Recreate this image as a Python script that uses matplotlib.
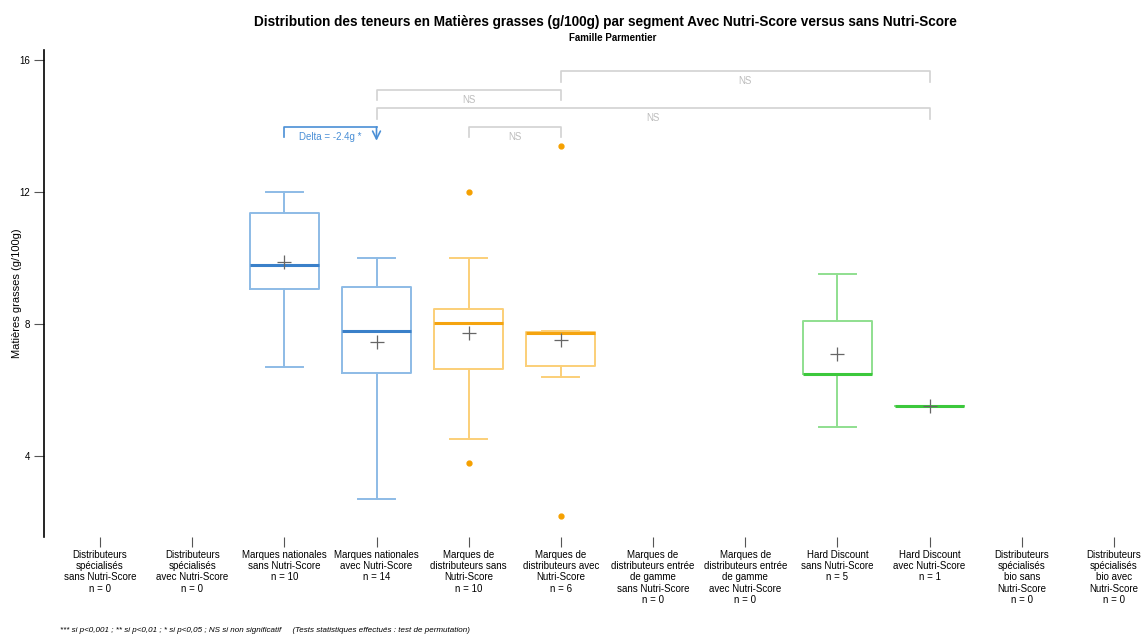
import matplotlib
matplotlib.use('Agg')
import matplotlib.pyplot as plt

plt.rcParams['font.family'] = ['Liberation Sans', 'DejaVu Sans']

# Categories (x axis)
categories = [
    "Distributeurs\nspécialisés\nsans Nutri-Score",
    "Distributeurs\nspécialisés\navec Nutri-Score",
    "Marques nationales\nsans Nutri-Score",
    "Marques nationales\navec Nutri-Score",
    "Marques de\ndistributeurs sans\nNutri-Score",
    "Marques de\ndistributeurs avec\nNutri-Score",
    "Marques de\ndistributeurs entrée\nde gamme\nsans Nutri-Score",
    "Marques de\ndistributeurs entrée\nde gamme\navec Nutri-Score",
    "Hard Discount\nsans Nutri-Score",
    "Hard Discount\navec Nutri-Score",
    "Distributeurs\nspécialisés\nbio sans\nNutri-Score",
    "Distributeurs\nspécialisés\nbio avec\nNutri-Score",
]
n_obs = [0, 0, 10, 14, 10, 6, 0, 0, 5, 1, 0, 0]

# Box statistics for non-empty segments (category index)
box_cat = [2, 3, 4, 5, 8, 9]
box_group = ['MN', 'MN', 'MDD', 'MDD', 'HD', 'HD']
whislo = [6.7, 2.7, 4.5, 6.38, 4.89, 5.5]
q1 = [9.07, 6.52, 6.64, 6.73, 6.48, 5.5]
med = [9.79, 7.79, 8.04, 7.72, 6.48, 5.5]
q3 = [11.37, 9.12, 8.46, 7.77, 8.09, 5.5]
whishi = [12.0, 10.0, 10.0, 7.8, 9.5, 5.5]
means = [9.88, 7.45, 7.72, 7.5, 7.08, 5.5]
fliers = [[], [], [12.0, 3.79], [13.4, 2.19], [], []]

# Comparisons (category index pairs)
cmp_left = [2, 4, 3, 3, 5]
cmp_right = [3, 5, 9, 5, 9]
cmp_level = [13.97, 13.97, 14.53, 15.09, 15.65]
cmp_text = ["Delta = -2.4g *", "NS", "NS", "NS", "NS"]
cmp_signif = [True, False, False, False, False]

colors = {
    'MN': ('#8dbbe6', '#3a80c9'),
    'MDD': ('#fbcf78', '#f5a40f'),
    'HD': ('#8fdf8f', '#3cc83c'),
}
flier_color = '#f5a000'

fig = plt.figure(figsize=(11.43, 6.37), dpi=100)
ax = fig.add_axes([44 / 1143, 100 / 637, 1099 / 1143, 487 / 637])

for grp, (light, dark) in colors.items():
    stats = []
    pos = []
    for k in range(len(box_cat)):
        if box_group[k] != grp:
            continue
        stats.append(dict(med=med[k], q1=q1[k], q3=q3[k], whislo=whislo[k],
                          whishi=whishi[k], mean=means[k], fliers=fliers[k]))
        pos.append(box_cat[k] + 1)
    ax.bxp(stats, positions=pos, widths=0.75, showmeans=True, patch_artist=False,
           boxprops=dict(color=light, linewidth=1.4),
           whiskerprops=dict(color=light, linewidth=1.4),
           capprops=dict(color=light, linewidth=1.4),
           medianprops=dict(color=dark, linewidth=2.2),
           meanprops=dict(marker='+', markeredgecolor='#666666', markersize=10,
                          markeredgewidth=0.9),
           flierprops=dict(marker='o', markerfacecolor=flier_color,
                           markeredgecolor=flier_color, markersize=3.5),
           capwidths=0.4)

# Significance brackets
drop = 0.32
for l, r, lev, txt, sig in zip(cmp_left, cmp_right, cmp_level, cmp_text, cmp_signif):
    x1, x2 = l + 1, r + 1
    if sig:
        c = '#4a8fd6'
        ax.plot([x1, x1, x2], [lev - drop, lev, lev], color=c, lw=1.2)
        ax.annotate('', xy=(x2, lev - drop - 0.1), xytext=(x2, lev),
                    arrowprops=dict(arrowstyle='->', color=c, lw=1.2,
                                    mutation_scale=14, shrinkA=0, shrinkB=0))
        ax.text((x1 + x2) / 2, lev - 0.3, txt, color=c, fontsize=7,
                ha='center', va='center')
    else:
        c = '#d2d2d2'
        ax.plot([x1, x1, x2, x2], [lev - drop, lev, lev, lev - drop], color=c, lw=1.2)
        ax.text((x1 + x2) / 2, lev - 0.3, txt, color='#bdbdbd', fontsize=7,
                ha='center', va='center')

ax.set_xlim(0.393, 12.315)
ax.set_ylim(1.545, 16.30)
ax.set_yticks([4, 8, 12, 16])
ax.set_xticks(range(1, 13))
ax.set_xticklabels([f"{c}\nn = {n}" for c, n in zip(categories, n_obs)],
                   fontsize=7, linespacing=1.18, va='top')
ax.tick_params(axis='x', length=7, width=0.8, color='#555555', pad=2)
ax.tick_params(axis='y', length=7, width=0.8, color='#555555', labelsize=7, pad=3)
for s in ['top', 'right', 'bottom']:
    ax.spines[s].set_visible(False)
ax.spines['left'].set_linewidth(1.2)
ax.set_ylabel("Matières grasses (g/100g)", fontsize=8)
ax.yaxis.set_label_coords(-22 / 1099, 0.5)

fig.text(0.53, 0.966, "Distribution des teneurs en Matières grasses (g/100g) par segment "
         "Avec Nutri-Score versus sans Nutri-Score", ha='center', va='center',
         fontsize=9.8, fontweight='bold')
fig.text(0.536, 0.940, "Famille Parmentier", ha='center', va='center',
         fontsize=7, fontweight='bold')
fig.text(60 / 1143, 1 - 630 / 637,
         "*** si p<0,001 ; ** si p<0,01 ; * si p<0,05 ; NS si non significatif"
         "     (Tests statistiques effectués : test de permutation)",
         ha='left', va='center', fontsize=5.8, style='italic')

fig.savefig('out.png', dpi=100)
